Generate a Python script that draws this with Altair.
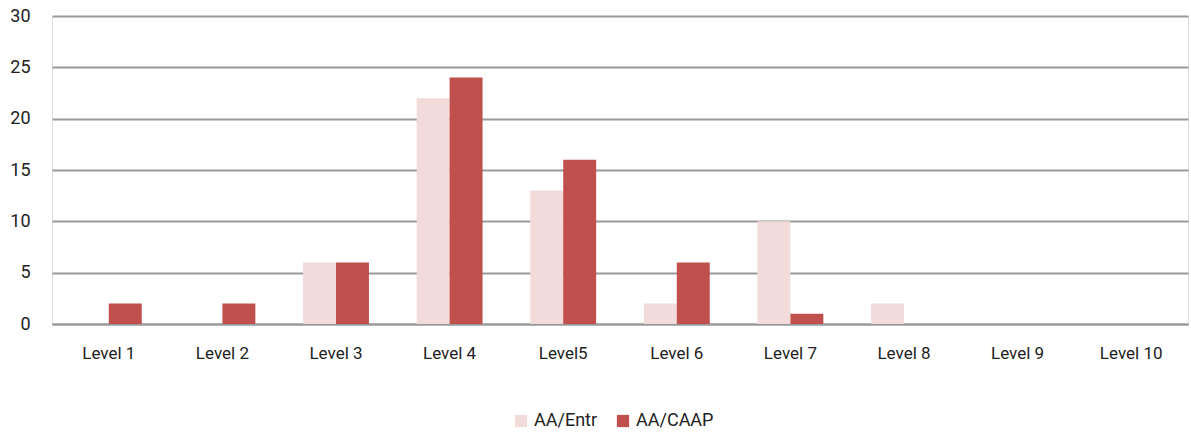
import altair as alt
import pandas as pd

levels = ["Level 1", "Level 2", "Level 3", "Level 4", "Level5",
          "Level 6", "Level 7", "Level 8", "Level 9", "Level 10"]
series = ["AA/Entr", "AA/CAAP"]
entr = [0, 0, 6, 22, 13, 2, 10, 2, 0, 0]
caap = [2, 2, 6, 24, 16, 6, 1, 0, 0, 0]
colors = ["#F2DCDB", "#C0504D"]

rows = []
for lv, e, c in zip(levels, entr, caap):
    rows.append({"level": lv, "series": series[0], "value": e})
    rows.append({"level": lv, "series": series[1], "value": c})
df = pd.DataFrame(rows)

font = "Roboto"
fs = 17

chart = alt.Chart(df).mark_bar().encode(
    x=alt.X("level:N", sort=levels, title=None,
            scale=alt.Scale(paddingInner=0.42, paddingOuter=0.21),
            axis=alt.Axis(labelAngle=0, tickSize=0, labelPadding=21,
                          domainColor="#999999", domainWidth=2,
                          labelFontSize=fs, labelColor="#222222", labelFont=font)),
    xOffset=alt.XOffset("series:N", sort=series),
    y=alt.Y("value:Q", title=None,
            scale=alt.Scale(domain=[0, 30]),
            axis=alt.Axis(values=[0, 5, 10, 15, 20, 25, 30], tickSize=0, domain=False,
                          labelPadding=22, grid=True, gridColor="#999999", gridWidth=2,
                          labelFontSize=fs + 1, labelColor="#222222", labelFont=font)),
    color=alt.Color("series:N", sort=series,
                    scale=alt.Scale(domain=series, range=colors),
                    legend=alt.Legend(title=None, orient="none", direction="horizontal",
                                      legendX=460, legendY=396, symbolType="square",
                                      symbolSize=150, symbolStrokeWidth=0,
                                      labelFontSize=fs + 1, labelColor="#222222", labelFont=font,
                                      labelOffset=4, columnPadding=16)),
).properties(
    width=1136, height=308,
    autosize=alt.AutoSizeParams(type="none"),
    padding={"left": 52, "top": 16, "right": 3, "bottom": 112},
).configure_view(stroke=None).configure(background="white")

chart.save("out.html", embed_options={"renderer": "svg", "actions": False})
